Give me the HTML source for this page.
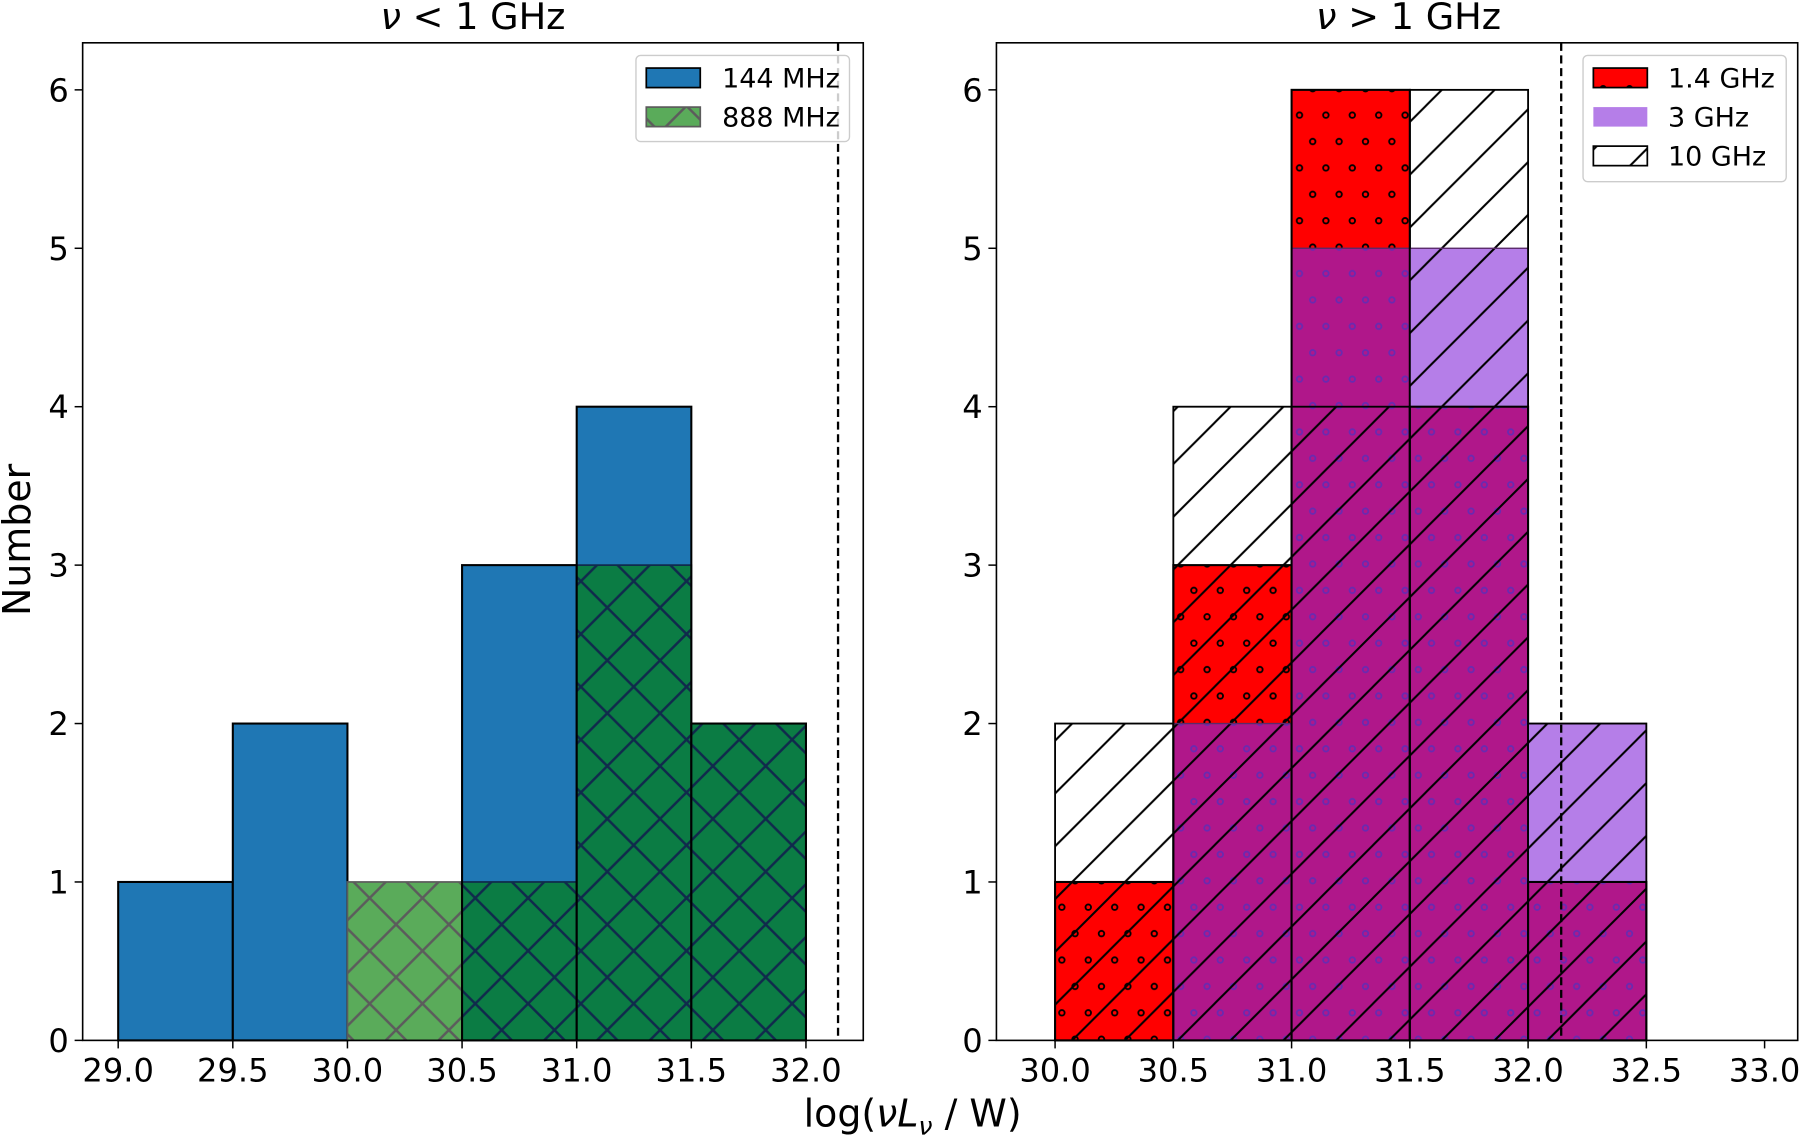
<!DOCTYPE html>
<html><head><meta charset="utf-8"><style>
html,body{margin:0;padding:0;background:#fff}
svg{display:block}
text{font-family:"DejaVu Sans","Liberation Sans",sans-serif;fill:#000}
</style></head><body>
<svg id="fig" width="1800" height="1136" viewBox="0 0 1568 989" xmlns="http://www.w3.org/2000/svg">
<defs>
<pattern id="xhLight" patternUnits="userSpaceOnUse" width="46" height="46" x="0" y="0"><path d="M0,0L46,46M46,0L0,46" stroke="#5c5c5c" stroke-width="2.2"/></pattern>
<pattern id="xhDark" patternUnits="userSpaceOnUse" width="46" height="46" x="0" y="0"><path d="M0,0L46,46M46,0L0,46" stroke="#102a4c" stroke-width="2.2"/></pattern>
<pattern id="diag" patternUnits="userSpaceOnUse" width="46" height="46" x="0" y="0"><path d="M-4,50L50,-4M-4,4L4,-4M42,50L50,42" stroke="#000" stroke-width="1.8"/></pattern>
<pattern id="dotK" patternUnits="userSpaceOnUse" width="23" height="46" x="0" y="0"><circle cx="5" cy="8" r="2.4" fill="none" stroke="#000" stroke-width="1.6"/><circle cx="16.5" cy="31" r="2.4" fill="none" stroke="#000" stroke-width="1.6"/></pattern>
<pattern id="dotP" patternUnits="userSpaceOnUse" width="23" height="46" x="0" y="0"><circle cx="5" cy="8" r="2.4" fill="none" stroke="#6a2ab0" stroke-width="1.6"/><circle cx="16.5" cy="31" r="2.4" fill="none" stroke="#6a2ab0" stroke-width="1.6"/></pattern>
</defs>
<g id="left"></g>
<g id="right"></g>
</svg>
<script>
const edgesL = [29.0,29.5,30.0,30.5,31.0,31.5,32.0];
const counts144 = [1,2,0,3,4,2];
const counts888 = [0,0,1,1,3,2];
const ticksL = ["29.0","29.5","30.0","30.5","31.0","31.5","32.0"];
const edgesR = [30.0,30.5,31.0,31.5,32.0,32.5];
const counts14 = [1,3,6,4,1];
const counts3 = [0,2,5,5,2];
const counts10 = [2,4,4,6,2];
const ticksR = ["30.0","30.5","31.0","31.5","32.0","32.5","33.0"];
const ticksY = [0,1,2,3,4,5,6];
const limitLine = 32.14;

const NS="http://www.w3.org/2000/svg";
function mk(parent,tag,attrs){const e=document.createElementNS(NS,tag);for(const k in attrs)e.setAttribute(k,attrs[k]);parent.appendChild(e);return e;}
const Y0=906, Y1=37, YMAX=6.297;
function yS(v){return Y0-(v/YMAX)*(Y0-Y1);}
function makeX(px0,px1,v0,v1){return v=>px0+(v-v0)/(v1-v0)*(px1-px0);}
const xL=makeX(72,752,28.845,32.25);
const xR=makeX(868,1566,29.752,33.14);

function axes(g,X,px0,px1,ticks,name){
  ticks.forEach(t=>{const v=parseFloat(t);const x=X(v);
    const tk=mk(g,'line',{x1:x,x2:x,y1:Y0,y2:Y0+7,stroke:'#000','stroke-width':1.3});
    
    const tx=mk(g,'text',{x:x,y:Y0+36,'text-anchor':'middle','font-size':28});tx.textContent=t;
    });
  ticksY.forEach(t=>{const y=yS(t);
    const tk=mk(g,'line',{x1:px0-7,x2:px0,y1:y,y2:y,stroke:'#000','stroke-width':1.3});
    
    const tx=mk(g,'text',{x:px0-12,y:y+10,'text-anchor':'end','font-size':28});tx.textContent=t;
    });
  const d=mk(g,'line',{x1:X(limitLine),x2:X(limitLine),y1:Y1,y2:Y0,stroke:'#000','stroke-width':2,'stroke-dasharray':'7,4'});
  
  const f=mk(g,'rect',{x:px0,y:Y1,width:px1-px0,height:Y0-Y1,fill:'none',stroke:'#000','stroke-width':1.4});
  
}
function rect(g,x0,x1,v0,v1,attrs){return mk(g,'rect',Object.assign({x:x0,y:yS(v1),width:x1-x0,height:yS(v0)-yS(v1)},attrs));}

// LEFT
const gL=document.getElementById('left');
for(let i=0;i<counts144.length;i++){
  const a=xL(edgesL[i]),b=xL(edgesL[i+1]);const bl=counts144[i],gr=counts888[i];
  if(bl>0){const r=rect(gL,a,b,0,bl,{fill:'#1f77b4'});
    }
  const ov=Math.min(bl,gr);
  if(ov>0){rect(gL,a,b,0,ov,{fill:'#0b7c44'});const h=rect(gL,a,b,0,ov,{fill:'url(#xhDark)'});
    }
  if(gr>bl){rect(gL,a,b,bl,gr,{fill:'#5aab5a'});const h=rect(gL,a,b,bl,gr,{fill:'url(#xhLight)'});
    }
  if(gr>0){const o=rect(gL,a,b,0,gr,{fill:'none',stroke:gr>bl?'#5c5c5c':'#102a4c','stroke-width':1.5});
    }
  if(bl>0){const o=rect(gL,a,b,0,bl,{fill:'none',stroke:'#000','stroke-width':1.8});
    }
}
axes(gL,xL,72,752,ticksL,'left');

// RIGHT
const gR=document.getElementById('right');
for(let i=0;i<counts14.length;i++){
  const a=xR(edgesR[i]),b=xR(edgesR[i+1]);const r14=counts14[i],p3=counts3[i],t10=counts10[i];
  const both=Math.min(r14,p3);
  if(both>0){rect(gR,a,b,0,both,{fill:'#b0178a'});rect(gR,a,b,0,both,{fill:'url(#dotP)'});}
  if(r14>p3){rect(gR,a,b,p3,r14,{fill:'#ff0000'});rect(gR,a,b,p3,r14,{fill:'url(#dotK)'});}
  if(p3>r14){rect(gR,a,b,r14,p3,{fill:'#b57ee8'});}
  const h=rect(gR,a,b,0,t10,{fill:'url(#diag)'});
  
  if(p3>0){const o=rect(gR,a,b,0,p3,{fill:'none',stroke:'#5a2a6a','stroke-width':1.2});
    }
  const o1=rect(gR,a,b,0,r14,{fill:'none',stroke:'#000','stroke-width':1.8});
  
  const o2=rect(gR,a,b,0,t10,{fill:'none',stroke:'#000','stroke-width':1.6});
  
}
axes(gR,xR,868,1566,ticksR,'right');
</script>
<svg style="position:absolute;left:0;top:0" width="1800" height="1136" viewBox="0 0 1568 989" xmlns="http://www.w3.org/2000/svg">
<text x="412" y="25" text-anchor="middle" font-size="32"><tspan font-style="italic">ν</tspan> &lt; 1 GHz</text>
<text x="1227" y="25" text-anchor="middle" font-size="32"><tspan font-style="italic">ν</tspan> &gt; 1 GHz</text>
<text x="795" y="981" text-anchor="middle" font-size="33">log(<tspan font-style="italic">νL</tspan><tspan font-style="italic" font-size="22" dy="7">ν</tspan><tspan dy="-7"> / W)</tspan></text>
<text x="26" y="470" text-anchor="middle" font-size="33" transform="rotate(-90 26 470)">Number</text>
<g>
<rect x="554" y="48" width="186" height="75" rx="4" fill="#fff" fill-opacity="0.8" stroke="#ccc" stroke-width="1.2"/>
<rect x="563" y="59" width="47" height="17" fill="#1f77b4" stroke="#000" stroke-width="1.5"/>
<text x="629" y="76" font-size="23.5">144 MHz</text>
<rect x="563" y="93" width="47" height="17" fill="#5aab5a"/>
<rect x="563" y="93" width="47" height="17" fill="url(#xhLight)" stroke="#5c5c5c" stroke-width="1.5"/>
<text x="629" y="110" font-size="23.5">888 MHz</text>
</g>
<g>
<rect x="1379" y="48" width="177" height="110" rx="4" fill="#fff" fill-opacity="0.8" stroke="#ccc" stroke-width="1.2"/>
<rect x="1388" y="59" width="47" height="17" fill="#ff0000"/>
<rect x="1388" y="59" width="47" height="17" fill="url(#dotK)" stroke="#000" stroke-width="1.5"/>
<text x="1453" y="76" font-size="23.5">1.4 GHz</text>
<rect x="1388" y="93" width="47" height="17" fill="#b57ee8"/>
<text x="1453" y="110" font-size="23.5">3 GHz</text>
<rect x="1388" y="127" width="47" height="17" fill="url(#diag)" stroke="#000" stroke-width="1.5"/>
<text x="1453" y="144" font-size="23.5">10 GHz</text>
</g>
</svg>
</body></html>
